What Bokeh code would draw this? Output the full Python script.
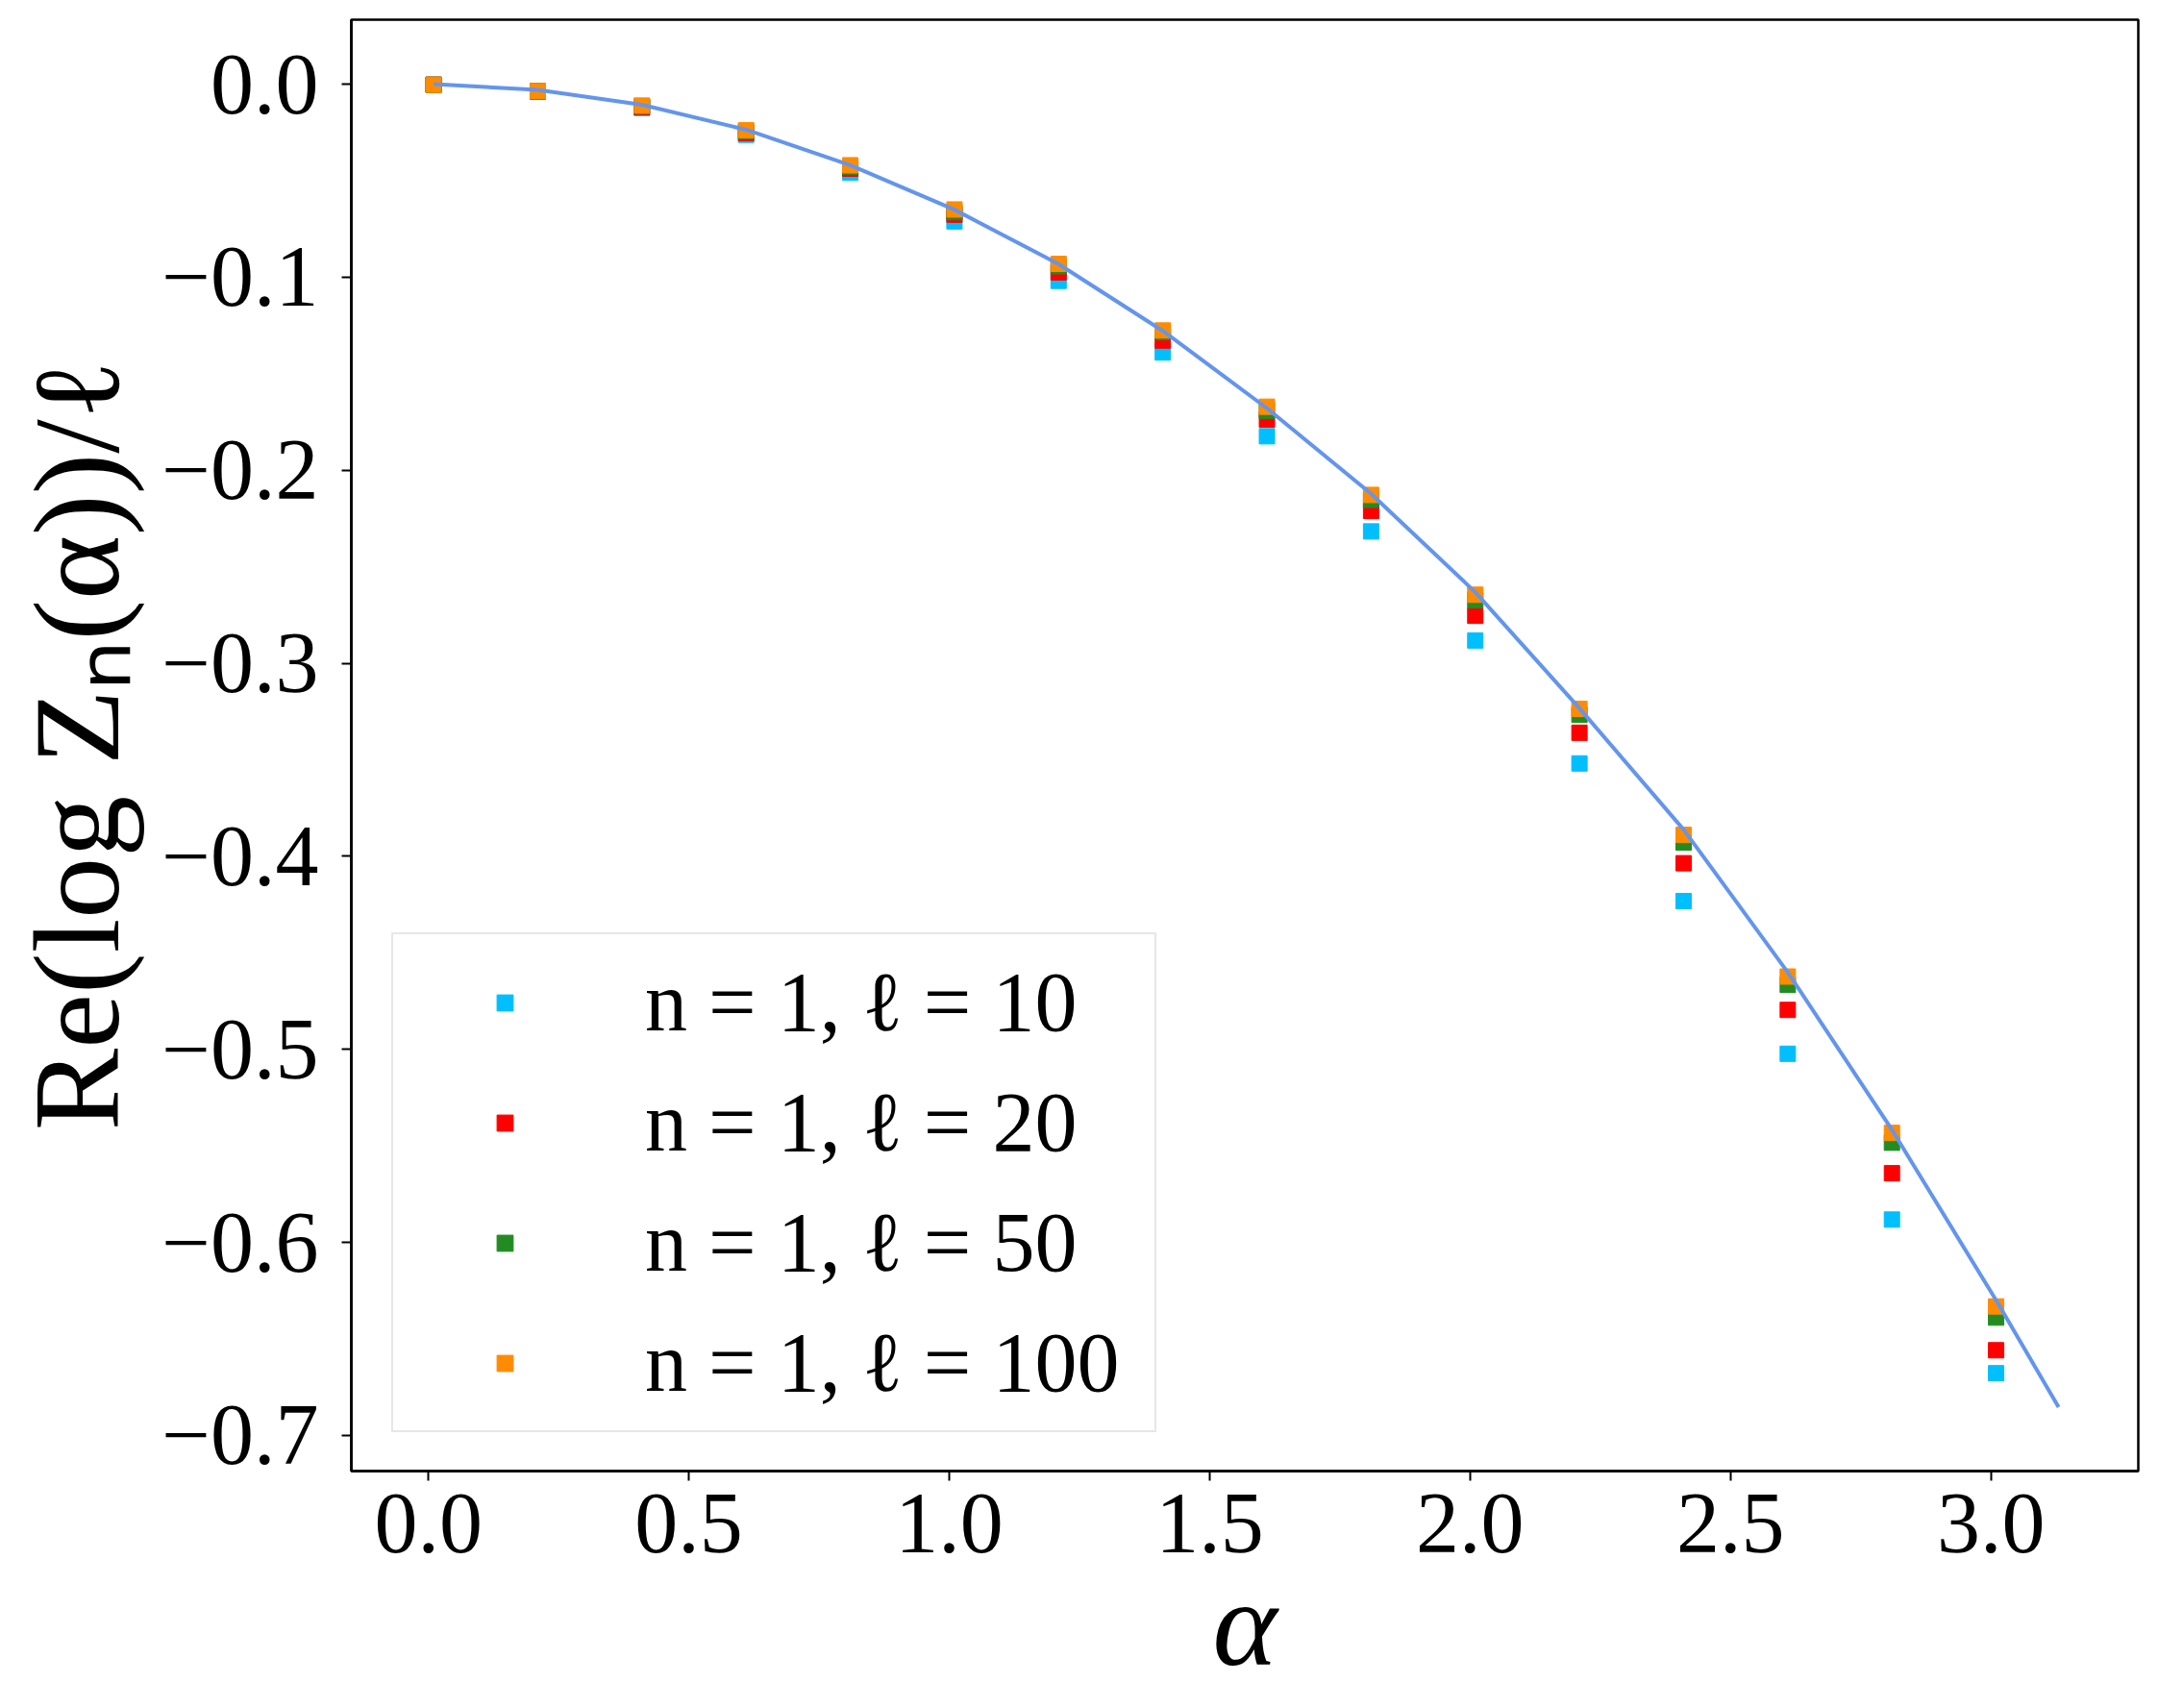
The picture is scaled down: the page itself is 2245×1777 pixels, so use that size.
from bokeh.plotting import figure
from bokeh.models import Range1d, FixedTicker, Legend, LegendItem
from bokeh.embed import file_html
from bokeh.resources import INLINE

# ---------------- data ----------------
alpha = [0.01, 0.21, 0.41, 0.61, 0.81, 1.01, 1.21, 1.41, 1.61, 1.81,
         2.01, 2.21, 2.41, 2.61, 2.81, 3.01]

y_l10 = [-0.0003, -0.0039, -0.0123, -0.0262, -0.0458, -0.0711, -0.1019, -0.1390,
         -0.1824, -0.2317, -0.2882, -0.3519, -0.4232, -0.5023, -0.5882, -0.6678]
y_l20 = [-0.0003, -0.0037, -0.0120, -0.0253, -0.0438, -0.0676, -0.0975, -0.1328,
         -0.1738, -0.2211, -0.2754, -0.3360, -0.4036, -0.4796, -0.5642, -0.6559]
y_l50 = [-0.0003, -0.0036, -0.0115, -0.0245, -0.0429, -0.0663, -0.0943, -0.1285,
         -0.1692, -0.2153, -0.2674, -0.3267, -0.3929, -0.4666, -0.5484, -0.6390]
y_l100 = [-0.0003, -0.0036, -0.0111, -0.0239, -0.0420, -0.0649, -0.0931, -0.1276,
          -0.1671, -0.2128, -0.2645, -0.3236, -0.3889, -0.4623, -0.5433, -0.6332]

curve_alpha = [0.01, 0.21, 0.41, 0.61, 0.81, 1.01, 1.21, 1.41, 1.61, 1.81,
               2.01, 2.21, 2.41, 2.61, 2.81, 3.01, 3.13]
curve_y = [0.0, -0.0029, -0.0107, -0.0236, -0.0420, -0.0650, -0.0932, -0.1278,
           -0.1679, -0.2122, -0.2632, -0.3233, -0.3862, -0.4601, -0.5417, -0.6300, -0.6854]

series_labels = ["n = 1, ℓ = 10", "n = 1, ℓ = 20", "n = 1, ℓ = 50", "n = 1, ℓ = 100"]
series_colors = ["#00BFFF", "#FF0000", "#228B22", "#FF8C00"]

xticks = [0.0, 0.5, 1.0, 1.5, 2.0, 2.5, 3.0]
xtick_labels = ["0.0", "0.5", "1.0", "1.5", "2.0", "2.5", "3.0"]
yticks = [0.0, -0.1, -0.2, -0.3, -0.4, -0.5, -0.6, -0.7]
ytick_labels = ["0.0", "−0.1", "−0.2", "−0.3", "−0.4", "−0.5", "−0.6", "−0.7"]

x_label = "α"
y_label = "Re(log Zₙ(α))/ℓ"

# ---------------- figure ----------------
FONT = "Liberation Serif"

p = figure(frame_width=1859, frame_height=1510,
           x_range=Range1d(-0.148, 3.283), y_range=Range1d(-0.7185, 0.0334),
           output_backend="svg", toolbar_location=None,
           min_border_left=365, min_border_top=20, min_border_right=14, min_border_bottom=200)

p.grid.visible = False
p.outline_line_color = "black"
p.outline_line_width = 2.5
p.background_fill_color = "white"
p.border_fill_color = "white"

for ax in (p.xaxis[0], p.yaxis[0]):
    ax.axis_line_color = "black"
    ax.axis_line_width = 2.5
    ax.major_tick_line_width = 2
    ax.major_tick_out = 10
    ax.major_tick_in = 0
    ax.minor_tick_line_color = None
    ax.major_label_text_font = FONT
    ax.major_label_text_font_size = "90px"
    ax.major_label_text_color = "black"
    ax.axis_label_text_font = FONT
    ax.axis_label_text_font_size = "128px"
    ax.axis_label_text_color = "black"

p.xaxis.ticker = FixedTicker(ticks=xticks)
p.xaxis.major_label_overrides = dict(zip(xticks, xtick_labels))
p.xaxis.major_label_standoff = 14
p.xaxis.axis_label = x_label
p.xaxis.axis_label_text_font_style = "italic"
p.xaxis.axis_label_standoff = 0

p.yaxis.ticker = FixedTicker(ticks=yticks)
p.yaxis.major_label_overrides = dict(zip(yticks, ytick_labels))
p.yaxis.major_label_standoff = 24
p.yaxis.axis_label = y_label
p.yaxis.axis_label_text_font_style = "normal"
p.yaxis.axis_label_standoff = 14

renderers = []
for ys, col in zip([y_l10, y_l20, y_l50, y_l100], series_colors):
    r = p.scatter(alpha, ys, marker="square", size=16, fill_color=col, line_color=col)
    renderers.append(r)

p.line(curve_alpha, curve_y, line_color="#6495ED", line_width=4)

legend = Legend(
    items=[LegendItem(label=lab, renderers=[r]) for lab, r in zip(series_labels, renderers)],
    location=(42, 40),
    glyph_width=192, glyph_height=42,
    label_standoff=50, label_width=510, label_height=96, spacing=24, padding=20, margin=0,
    label_text_font=FONT, label_text_font_size="88px", label_text_color="black",
    border_line_color="#cfcfcf", border_line_width=2.5,
    background_fill_color="white", background_fill_alpha=0.8,
)
p.add_layout(legend, "center")

open("out.html", "w").write(file_html(p, INLINE))
